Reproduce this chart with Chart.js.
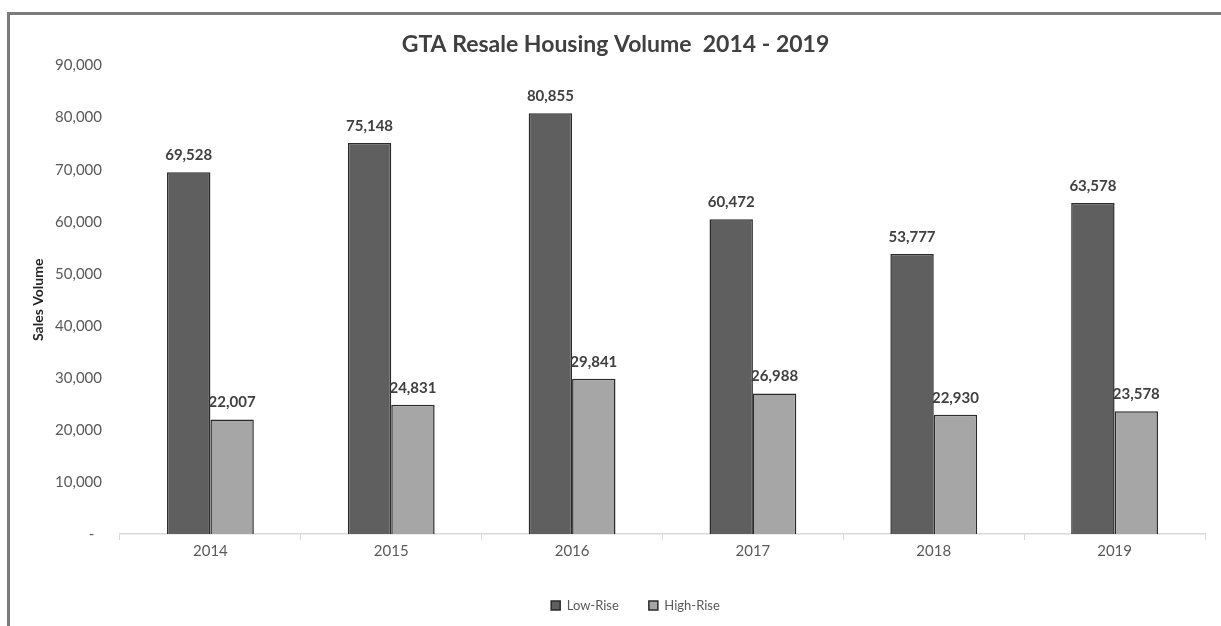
<!DOCTYPE html>
<html>
<head>
<meta charset="utf-8">
<title>GTA Resale Housing Volume 2014 - 2019</title>
<script src="https://cdn.jsdelivr.net/npm/chart.js@4.4.1/dist/chart.umd.min.js"></script>
<style>
  html, body { margin: 0; padding: 0; background: #fff; }
  #wrap { position: relative; width: 1221px; height: 626px; }
  #frame {
    position: absolute; left: 7px; top: 12px; right: 0; bottom: 0;
    border-top: 3px solid #7b7b7b; border-left: 3px solid #7b7b7b;
  }
  #volume-chart { position: absolute; left: 0; top: 0; }
</style>
</head>
<body>
<div id="wrap">
  <div id="frame"></div>
  <canvas id="volume-chart" width="1221" height="626"></canvas>
</div>
<script>
const years = ['2014', '2015', '2016', '2017', '2018', '2019']
const lowRise = [69528, 75148, 80855, 60472, 53777, 63578]
const highRise = [22007, 24831, 29841, 26988, 22930, 23578]
const yTicks = [0, 10000, 20000, 30000, 40000, 50000, 60000, 70000, 80000, 90000]

const fontFamily = 'Lato, "Open Sans", sans-serif'
const textGray = '#595959'

const fmt = v => v.toLocaleString('en-US')

// value labels above each bar
const barLabels = {
    id: 'barLabels',
    afterDatasetsDraw(chart) {
        const {ctx} = chart
        ctx.save()
        ctx.font = 'bold 15px ' + fontFamily
        ctx.fillStyle = '#404040'
        ctx.textAlign = 'center'
        ctx.textBaseline = 'middle'
        chart.data.datasets.forEach((ds, i) => {
            chart.getDatasetMeta(i).data.forEach((bar, j) => {
                ctx.fillText(fmt(ds.data[j]), bar.x, bar.y - 17)
            })
        })
        ctx.restore()
    }
}

// pull the legend a bit left of the plot centre
const legendNudge = {
    id: 'legendNudge',
    afterLayout(chart) {
        const lg = chart.legend
        if (!lg) return
        lg.left -= 27
        lg.right -= 27
    }
}

const context = document.getElementById('volume-chart')

new Chart(context, {
    type: 'bar',
    data: {
        labels: years,
        datasets: [{
            label: 'Low-Rise',
            data: lowRise,
            backgroundColor: '#5f5f5f',
            borderColor: '#2a2a2a',
            borderWidth: 1.5,
        }, {
            label: 'High-Rise',
            data: highRise,
            backgroundColor: '#a6a6a6',
            borderColor: '#2a2a2a',
            borderWidth: 1.5,
        }],
    },
    options: {
        responsive: false,
        animation: false,
        categoryPercentage: 0.48,
        barPercentage: 1,
        layout: {
            padding: {left: 26, right: 16, top: 20, bottom: 4}
        },
        plugins: {
            title: {
                display: true,
                text: 'GTA Resale Housing Volume  2014 - 2019',
                color: '#404040',
                font: {family: fontFamily, size: 23, weight: 'bold'},
                padding: {top: 11, bottom: 7},
            },
            legend: {
                position: 'bottom',
                fullSize: false,
                labels: {
                    color: textGray,
                    font: {family: fontFamily, size: 13},
                    boxWidth: 9,
                    boxHeight: 9,
                    padding: 30,
                },
            },
            tooltip: {enabled: false},
        },
        scales: {
            x: {
                grid: {
                    display: true,
                    drawOnChartArea: false,
                    offset: true,
                    tickLength: 6,
                    color: '#d9d9d9',
                },
                border: {display: true, color: '#d9d9d9', width: 1.5},
                ticks: {
                    color: textGray,
                    font: {family: fontFamily, size: 15},
                    padding: 2,
                },
                afterFit(scale) { scale.height = 35 },
            },
            y: {
                min: 0,
                max: 90000,
                afterBuildTicks(scale) {
                    scale.ticks = yTicks.map(v => ({value: v}))
                },
                grid: {display: false, drawTicks: false},
                border: {display: false},
                ticks: {
                    color: textGray,
                    font: {family: fontFamily, size: 15},
                    padding: 18,
                    callback: v => v === 0 ? '-  ' : fmt(v),
                },
                title: {
                    display: true,
                    text: 'Sales Volume',
                    color: '#262626',
                    font: {family: fontFamily, size: 14, weight: 'bold'},
                },
                afterFit(scale) { scale.width = 94 },
            }
        }
    },
    plugins: [barLabels, legendNudge]
});
</script>
</body>
</html>
